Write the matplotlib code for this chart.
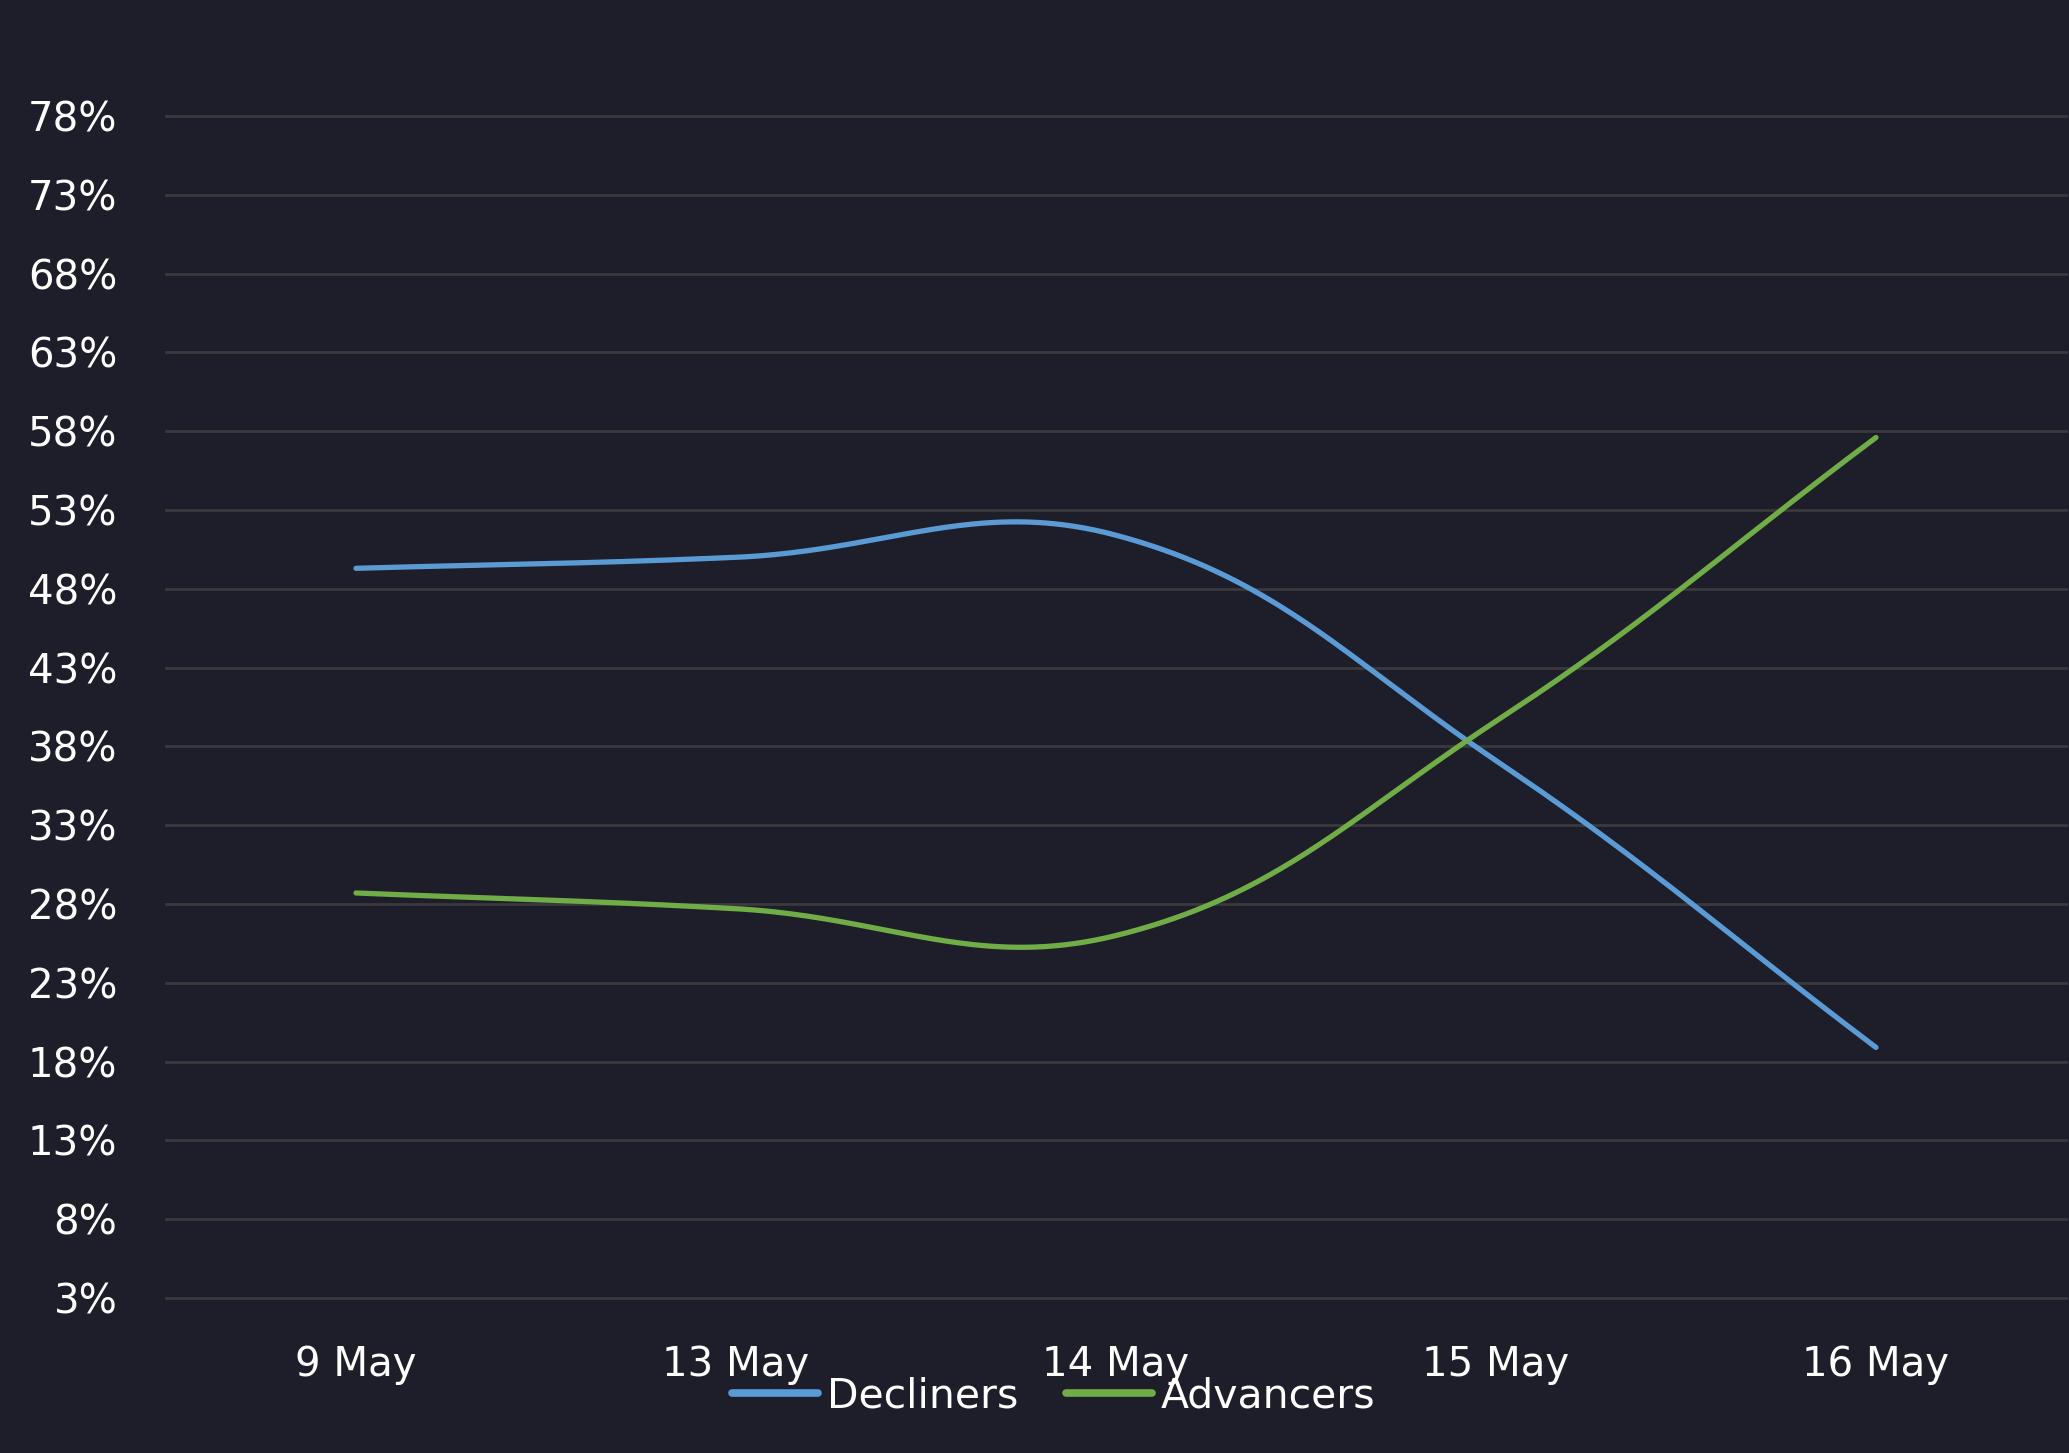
import numpy as np
import matplotlib
matplotlib.use("Agg")
import matplotlib.pyplot as plt
from matplotlib.lines import Line2D

# ---- data ----
dates = ["9 May", "13 May", "14 May", "15 May", "16 May"]
decliners = [49.3, 50.0, 51.4, 37.1, 18.9]
advancers = [28.7, 27.7, 26.0, 39.6, 57.6]
y_ticks = [3, 8, 13, 18, 23, 28, 33, 38, 43, 48, 53, 58, 63, 68, 73, 78]
series_names = ["Decliners", "Advancers"]
series_colors = ["#5b9bd5", "#70ad47"]

BG = "#1e1d2a"
GRID = "#3a3a3c"
TXT = "#ffffff"
plt.rcParams["font.family"] = ["DejaVu Sans"]


def smooth_curve(xs, ys, tension=0.4, sx=380.0, sy=15.76, n=80):
    """Cubic bezier spline (tension based) computed in pixel-like units."""
    P = np.column_stack([np.asarray(xs, float) * sx, np.asarray(ys, float) * sy])
    m = len(P)
    pc, nc = [], []
    for i in range(m):
        prev = P[i - 1] if i > 0 else P[i]
        nxt = P[i + 1] if i < m - 1 else P[i]
        d01 = np.hypot(*(P[i] - prev))
        d12 = np.hypot(*(nxt - P[i]))
        tot = d01 + d12
        s01 = d01 / tot if tot else 0.0
        s12 = d12 / tot if tot else 0.0
        pc.append(P[i] - tension * s01 * (nxt - prev))
        nc.append(P[i] + tension * s12 * (nxt - prev))
    t = np.linspace(0, 1, n)[:, None]
    pts = []
    for i in range(m - 1):
        b = ((1 - t) ** 3 * P[i] + 3 * (1 - t) ** 2 * t * nc[i]
             + 3 * (1 - t) * t ** 2 * pc[i + 1] + t ** 3 * P[i + 1])
        pts.append(b if i == 0 else b[1:])
    pts = np.vstack(pts)
    return pts[:, 0] / sx, pts[:, 1] / sy


W, H = 2069, 1453
fig = plt.figure(figsize=(W / 100, H / 100), dpi=100, facecolor=BG)
ax = fig.add_axes([166 / W, 1 - 1298 / H, 1900 / W, (1298 - 116) / H], facecolor=BG)

x = np.arange(len(dates))
for name, vals, col in zip(series_names, [decliners, advancers], series_colors):
    sx_, sy_ = smooth_curve(x, vals)
    ax.plot(sx_, sy_, color=col, lw=3.8, solid_capstyle="round", zorder=3)

ax.set_xlim(-0.5, len(dates) - 0.5)
ax.set_ylim(y_ticks[0], y_ticks[-1])
ax.set_yticks(y_ticks)
ax.set_yticklabels([f"{v}%" for v in y_ticks])
ax.set_xticks(x)
ax.set_xticklabels(dates)
ax.tick_params(axis="both", length=0, colors=TXT, labelsize=29)
ax.tick_params(axis="y", pad=35)
ax.tick_params(axis="x", pad=34)
ax.grid(axis="y", color=GRID, lw=2.0, zorder=0)
ax.grid(axis="x", visible=False)
ax.set_axisbelow(True)
for gl in ax.yaxis.get_gridlines():
    gl.set_clip_on(False)
for s in ax.spines.values():
    s.set_visible(False)

handles = [Line2D([0], [0], color=c, lw=5.5, solid_capstyle="round") for c in series_colors]
leg = fig.legend(handles, series_names, loc="center", bbox_to_anchor=(1054 / W, 1 - 1396 / H),
                 ncol=2, frameon=False, fontsize=29.5, handlelength=2.1,
                 handletextpad=0.22, columnspacing=1.15, borderpad=0)
for t in leg.get_texts():
    t.set_color(TXT)

fig.savefig("out.png", dpi=100, facecolor=BG)
